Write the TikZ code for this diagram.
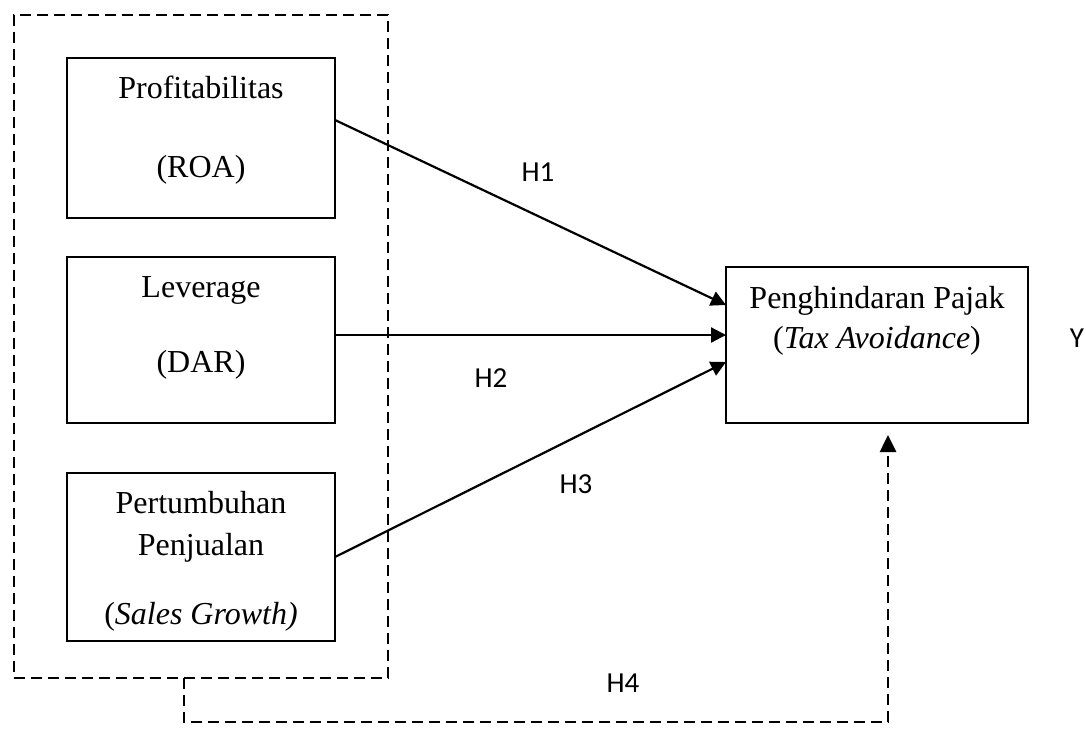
\documentclass[tikz,border=0pt]{standalone}
\usepackage{fontspec}
\setmainfont{Liberation Serif}
\newfontfamily\hsans{Carlito}
\usetikzlibrary{arrows.meta}
\begin{document}
\begin{tikzpicture}[x=0.5pt,y=-0.5pt,
  box/.style={draw, line width=1.1pt, inner sep=0pt, outer sep=0pt},
  txt/.style={font=\fontsize{16}{19}\selectfont, anchor=base, inner sep=0pt},
  hlab/.style={font=\hsans\fontsize{14.5}{17}\selectfont, inner sep=0pt},
  conn/.style={line width=1.1pt, -{Triangle[length=7.5pt,width=7.5pt]}},
  dashline/.style={line width=1.3pt, dash pattern=on 5.5pt off 3pt}]
\useasboundingbox (0,0) rectangle (1086,728);
% group box
\node[box, dashline, minimum width=187pt, minimum height=331.5pt] (grp) at (201,346.5) {};
% boxes
\node[box, minimum width=134pt, minimum height=80pt] (prof) at (201,138) {};
\node[box, minimum width=134pt, minimum height=83pt] (lev) at (201,340) {};
\node[box, minimum width=134pt, minimum height=84pt] (pert) at (201,557) {};
\node[box, minimum width=151pt, minimum height=78pt] (tax) at (877,345) {};
% texts
\node[txt] (t1) at (201,98) {Profitabilitas};
\node[txt] (t2) at (201,177) {(ROA)};
\node[txt] (t3) at (201,297) {Leverage};
\node[txt] (t4) at (201,372) {(DAR)};
\node[txt] (t5) at (201,513) {Pertumbuhan};
\node[txt] (t6) at (201,555) {Penjualan};
\node[txt] (t7) at (201,624) {(\textit{Sales Growth)}};
\node[txt] (t8) at (877,308) {Penghindaran Pajak};
\node[txt] (t9) at (877,348) {(\textit{Tax Avoidance})};
% arrows
\draw[conn] ([yshift=9pt]prof.east) -- ([yshift=20pt]tax.west);
\draw[conn] ([yshift=2.5pt]lev.east) -- ([yshift=5pt]tax.west);
\draw[conn] (pert.east) -- ([yshift=-8.5pt]tax.west);
% dashed connector
\coordinate (turn) at (888,722);
\coordinate (tip) at (888,435);
\draw[dashline, -{Triangle[length=8.5pt,width=8pt]}] ([xshift=-8.5pt]grp.south) |- (turn) -- (tip);
% labels
\node[hlab] (h1) at (538,172) {H1};
\node[hlab] (h2) at (491,378) {H2};
\node[hlab] (h3) at (576,484) {H3};
\node[hlab] (h4) at (623,683) {H4};
\node[hlab] (y) at (1077,338) {Y};
\end{tikzpicture}
\end{document}
